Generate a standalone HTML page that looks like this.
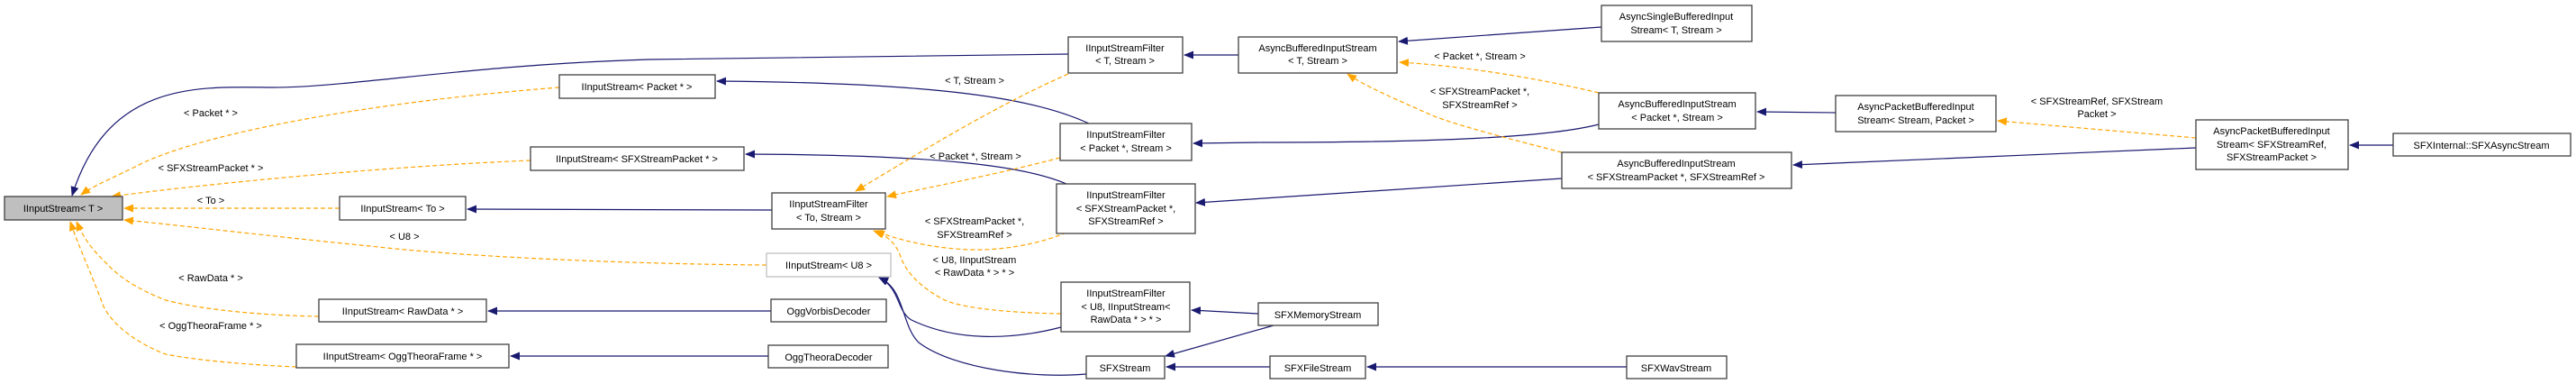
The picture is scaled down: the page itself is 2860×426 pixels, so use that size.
<!DOCTYPE html>
<html><head><meta charset="utf-8"><style>
html,body{margin:0;padding:0;background:#fff;}
svg{display:block;}
text{font-family:"Liberation Sans",sans-serif;font-size:11px;fill:#000;}
.n{fill:#fff;stroke:#404040;stroke-width:1.3;}
.b{fill:none;stroke:#191970;stroke-width:1.2;marker-end:url(#mb);}
.o{fill:none;stroke:#ffa500;stroke-width:1.2;stroke-dasharray:5,3;marker-end:url(#mo);}
</style></head><body>
<svg width="2860" height="426" viewBox="0 0 2860 426" xmlns="http://www.w3.org/2000/svg">
<defs>
<marker id="mb" markerWidth="11" markerHeight="9" refX="10" refY="4.5" orient="auto" markerUnits="userSpaceOnUse"><path d="M0,0 L11,4.5 L0,9z" fill="#191970"/></marker>
<marker id="mo" markerWidth="11" markerHeight="9" refX="10" refY="4.5" orient="auto" markerUnits="userSpaceOnUse"><path d="M0,0 L11,4.5 L0,9z" fill="#ffa500"/></marker>
</defs>

<!-- blue edges -->
<path class="b" d="M1186,60 L720,66 C520,72 380,98 300,97 C220,96 120,90 80,217"/>
<path class="b" d="M1209,137 C1150,110 1050,92 796,90"/>
<path class="b" d="M1184,204 C1140,185 1050,172 828,171"/>
<path class="b" d="M857,233 L519,232"/>
<path class="b" d="M1375,61 L1315,61"/>
<path class="b" d="M1778,30 L1553,46"/>
<path class="b" d="M1775,138 C1720,152 1600,158 1400,158 L1325,159"/>
<path class="b" d="M1734,198 L1328,225"/>
<path class="b" d="M2038,125 L1951,124"/>
<path class="b" d="M2438,164 L1991,183"/>
<path class="b" d="M2657,161 L2609,161"/>
<path class="b" d="M856,345 L542,345"/>
<path class="b" d="M853,395 L567,395"/>
<path class="b" d="M1178,363 C1120,378 1060,378 1012,355 C995,345 1000,320 976,308"/>
<path class="b" d="M1206,415 C1150,420 1060,410 1020,380 C1000,360 1005,320 976,308"/>
<path class="b" d="M1397,348 L1323,344"/>
<path class="b" d="M1414,361 L1294,395"/>
<path class="b" d="M1410,407 L1295,407"/>
<path class="b" d="M1806,407 L1518,407"/>

<!-- orange edges -->
<path class="o" d="M621,97 C450,110 250,140 160,180 C125,198 105,205 90,216"/>
<path class="o" d="M589,178 C420,185 220,205 124,218"/>
<path class="o" d="M377,231 L138,231"/>
<path class="o" d="M851,294 C700,293 520,285 420,274 C300,262 200,250 138,244"/>
<path class="o" d="M354,351 C300,350 230,345 184,333 C150,320 130,305 119,293 C100,275 92,262 85,246"/>
<path class="o" d="M329,407 C280,405 220,400 184,393 C150,380 125,360 115,340 C100,300 88,275 78,246"/>
<path class="o" d="M1186,82 C1100,120 1020,170 950,212"/>
<path class="o" d="M1177,175 C1100,195 1030,208 985,218"/>
<path class="o" d="M1184,258 C1150,272 1110,278 1076,277 C1030,275 995,265 970,256"/>
<path class="o" d="M1178,348 C1120,347 1070,342 1049,333 C1020,318 1005,300 1000,285 C995,270 985,262 972,256"/>
<path class="o" d="M1775,103 C1700,85 1620,73 1554,69"/>
<path class="o" d="M1734,169 C1680,155 1620,140 1590,128 C1550,110 1520,98 1496,82"/>
<path class="o" d="M2438,153 L2218,134"/>

<!-- edge labels -->
<g text-anchor="middle">
<text x="234" y="129">&lt; Packet * &gt;</text>
<text x="234" y="190">&lt; SFXStreamPacket * &gt;</text>
<text x="234" y="226">&lt; To &gt;</text>
<text x="449" y="266">&lt; U8 &gt;</text>
<text x="234" y="312">&lt; RawData * &gt;</text>
<text x="234" y="365">&lt; OggTheoraFrame * &gt;</text>
<text x="1082" y="93">&lt; T, Stream &gt;</text>
<text x="1083" y="177">&lt; Packet *, Stream &gt;</text>
<text x="1082" y="249">&lt; SFXStreamPacket *,</text>
<text x="1082" y="264">SFXStreamRef &gt;</text>
<text x="1082" y="292">&lt; U8, IInputStream</text>
<text x="1082" y="306">&lt; RawData * &gt; * &gt;</text>
<text x="1643" y="66">&lt; Packet *, Stream &gt;</text>
<text x="1643" y="105">&lt; SFXStreamPacket *,</text>
<text x="1643" y="120">SFXStreamRef &gt;</text>
<text x="2328" y="116">&lt; SFXStreamRef, SFXStream</text>
<text x="2328" y="130">Packet &gt;</text>
</g>

<!-- nodes -->
<rect x="5" y="218" width="131" height="26" fill="#bfbfbf" stroke="#404040" stroke-width="1.3"/>
<g text-anchor="middle">
<text x="70" y="235">IInputStream&lt; T &gt;</text>

<rect class="n" x="621" y="83" width="173" height="26"/><text x="707" y="100">IInputStream&lt; Packet * &gt;</text>
<rect class="n" x="589" y="163" width="237" height="26"/><text x="707" y="180">IInputStream&lt; SFXStreamPacket * &gt;</text>
<rect class="n" x="377" y="218" width="140" height="26"/><text x="447" y="235">IInputStream&lt; To &gt;</text>
<rect class="n" x="354" y="332" width="186" height="25"/><text x="447" y="349">IInputStream&lt; RawData * &gt;</text>
<rect class="n" x="329" y="382" width="236" height="26"/><text x="447" y="399">IInputStream&lt; OggTheoraFrame * &gt;</text>

<rect class="n" x="1186" y="41" width="127" height="40"/><text x="1249" y="57">IInputStreamFilter</text><text x="1249" y="71">&lt; T, Stream &gt;</text>
<rect class="n" x="1177" y="137" width="146" height="41"/><text x="1250" y="153">IInputStreamFilter</text><text x="1250" y="168">&lt; Packet *, Stream &gt;</text>
<rect class="n" x="857" y="214" width="126" height="40"/><text x="920" y="230">IInputStreamFilter</text><text x="920" y="245">&lt; To, Stream &gt;</text>
<rect class="n" x="1173" y="204" width="154" height="55"/><text x="1250" y="220">IInputStreamFilter</text><text x="1250" y="235">&lt; SFXStreamPacket *,</text><text x="1250" y="249">SFXStreamRef &gt;</text>
<rect x="851" y="281" width="138" height="26" fill="#fff" stroke="#bfbfbf" stroke-width="1.3"/><text x="920" y="298">IInputStream&lt; U8 &gt;</text>
<rect class="n" x="856" y="332" width="128" height="25"/><text x="920" y="349">OggVorbisDecoder</text>
<rect class="n" x="853" y="383" width="133" height="25"/><text x="920" y="400">OggTheoraDecoder</text>
<rect class="n" x="1178" y="313" width="143" height="55"/><text x="1250" y="329">IInputStreamFilter</text><text x="1250" y="344">&lt; U8, IInputStream&lt;</text><text x="1250" y="358">RawData * &gt; * &gt;</text>
<rect class="n" x="1206" y="395" width="87" height="25"/><text x="1249" y="412">SFXStream</text>
<rect class="n" x="1397" y="336" width="133" height="25"/><text x="1463" y="353">SFXMemoryStream</text>

<rect class="n" x="1375" y="41" width="176" height="40"/><text x="1463" y="57">AsyncBufferedInputStream</text><text x="1463" y="71">&lt; T, Stream &gt;</text>
<rect class="n" x="1778" y="6" width="167" height="40"/><text x="1861" y="22">AsyncSingleBufferedInput</text><text x="1861" y="37">Stream&lt; T, Stream &gt;</text>
<rect class="n" x="1775" y="103" width="174" height="40"/><text x="1862" y="119">AsyncBufferedInputStream</text><text x="1862" y="134">&lt; Packet *, Stream &gt;</text>
<rect class="n" x="1734" y="169" width="255" height="40"/><text x="1861" y="185">AsyncBufferedInputStream</text><text x="1861" y="200">&lt; SFXStreamPacket *, SFXStreamRef &gt;</text>
<rect class="n" x="2038" y="106" width="178" height="40"/><text x="2127" y="122">AsyncPacketBufferedInput</text><text x="2127" y="137">Stream&lt; Stream, Packet &gt;</text>
<rect class="n" x="1410" y="395" width="106" height="25"/><text x="1463" y="412">SFXFileStream</text>
<rect class="n" x="1806" y="395" width="111" height="25"/><text x="1861" y="412">SFXWavStream</text>

<rect class="n" x="2438" y="133" width="169" height="55"/><text x="2522" y="149">AsyncPacketBufferedInput</text><text x="2522" y="164">Stream&lt; SFXStreamRef,</text><text x="2522" y="178">SFXStreamPacket &gt;</text>
<rect class="n" x="2657" y="148" width="197" height="25"/><text x="2755" y="165">SFXInternal::SFXAsyncStream</text>
</g>
</svg>
</body></html>
